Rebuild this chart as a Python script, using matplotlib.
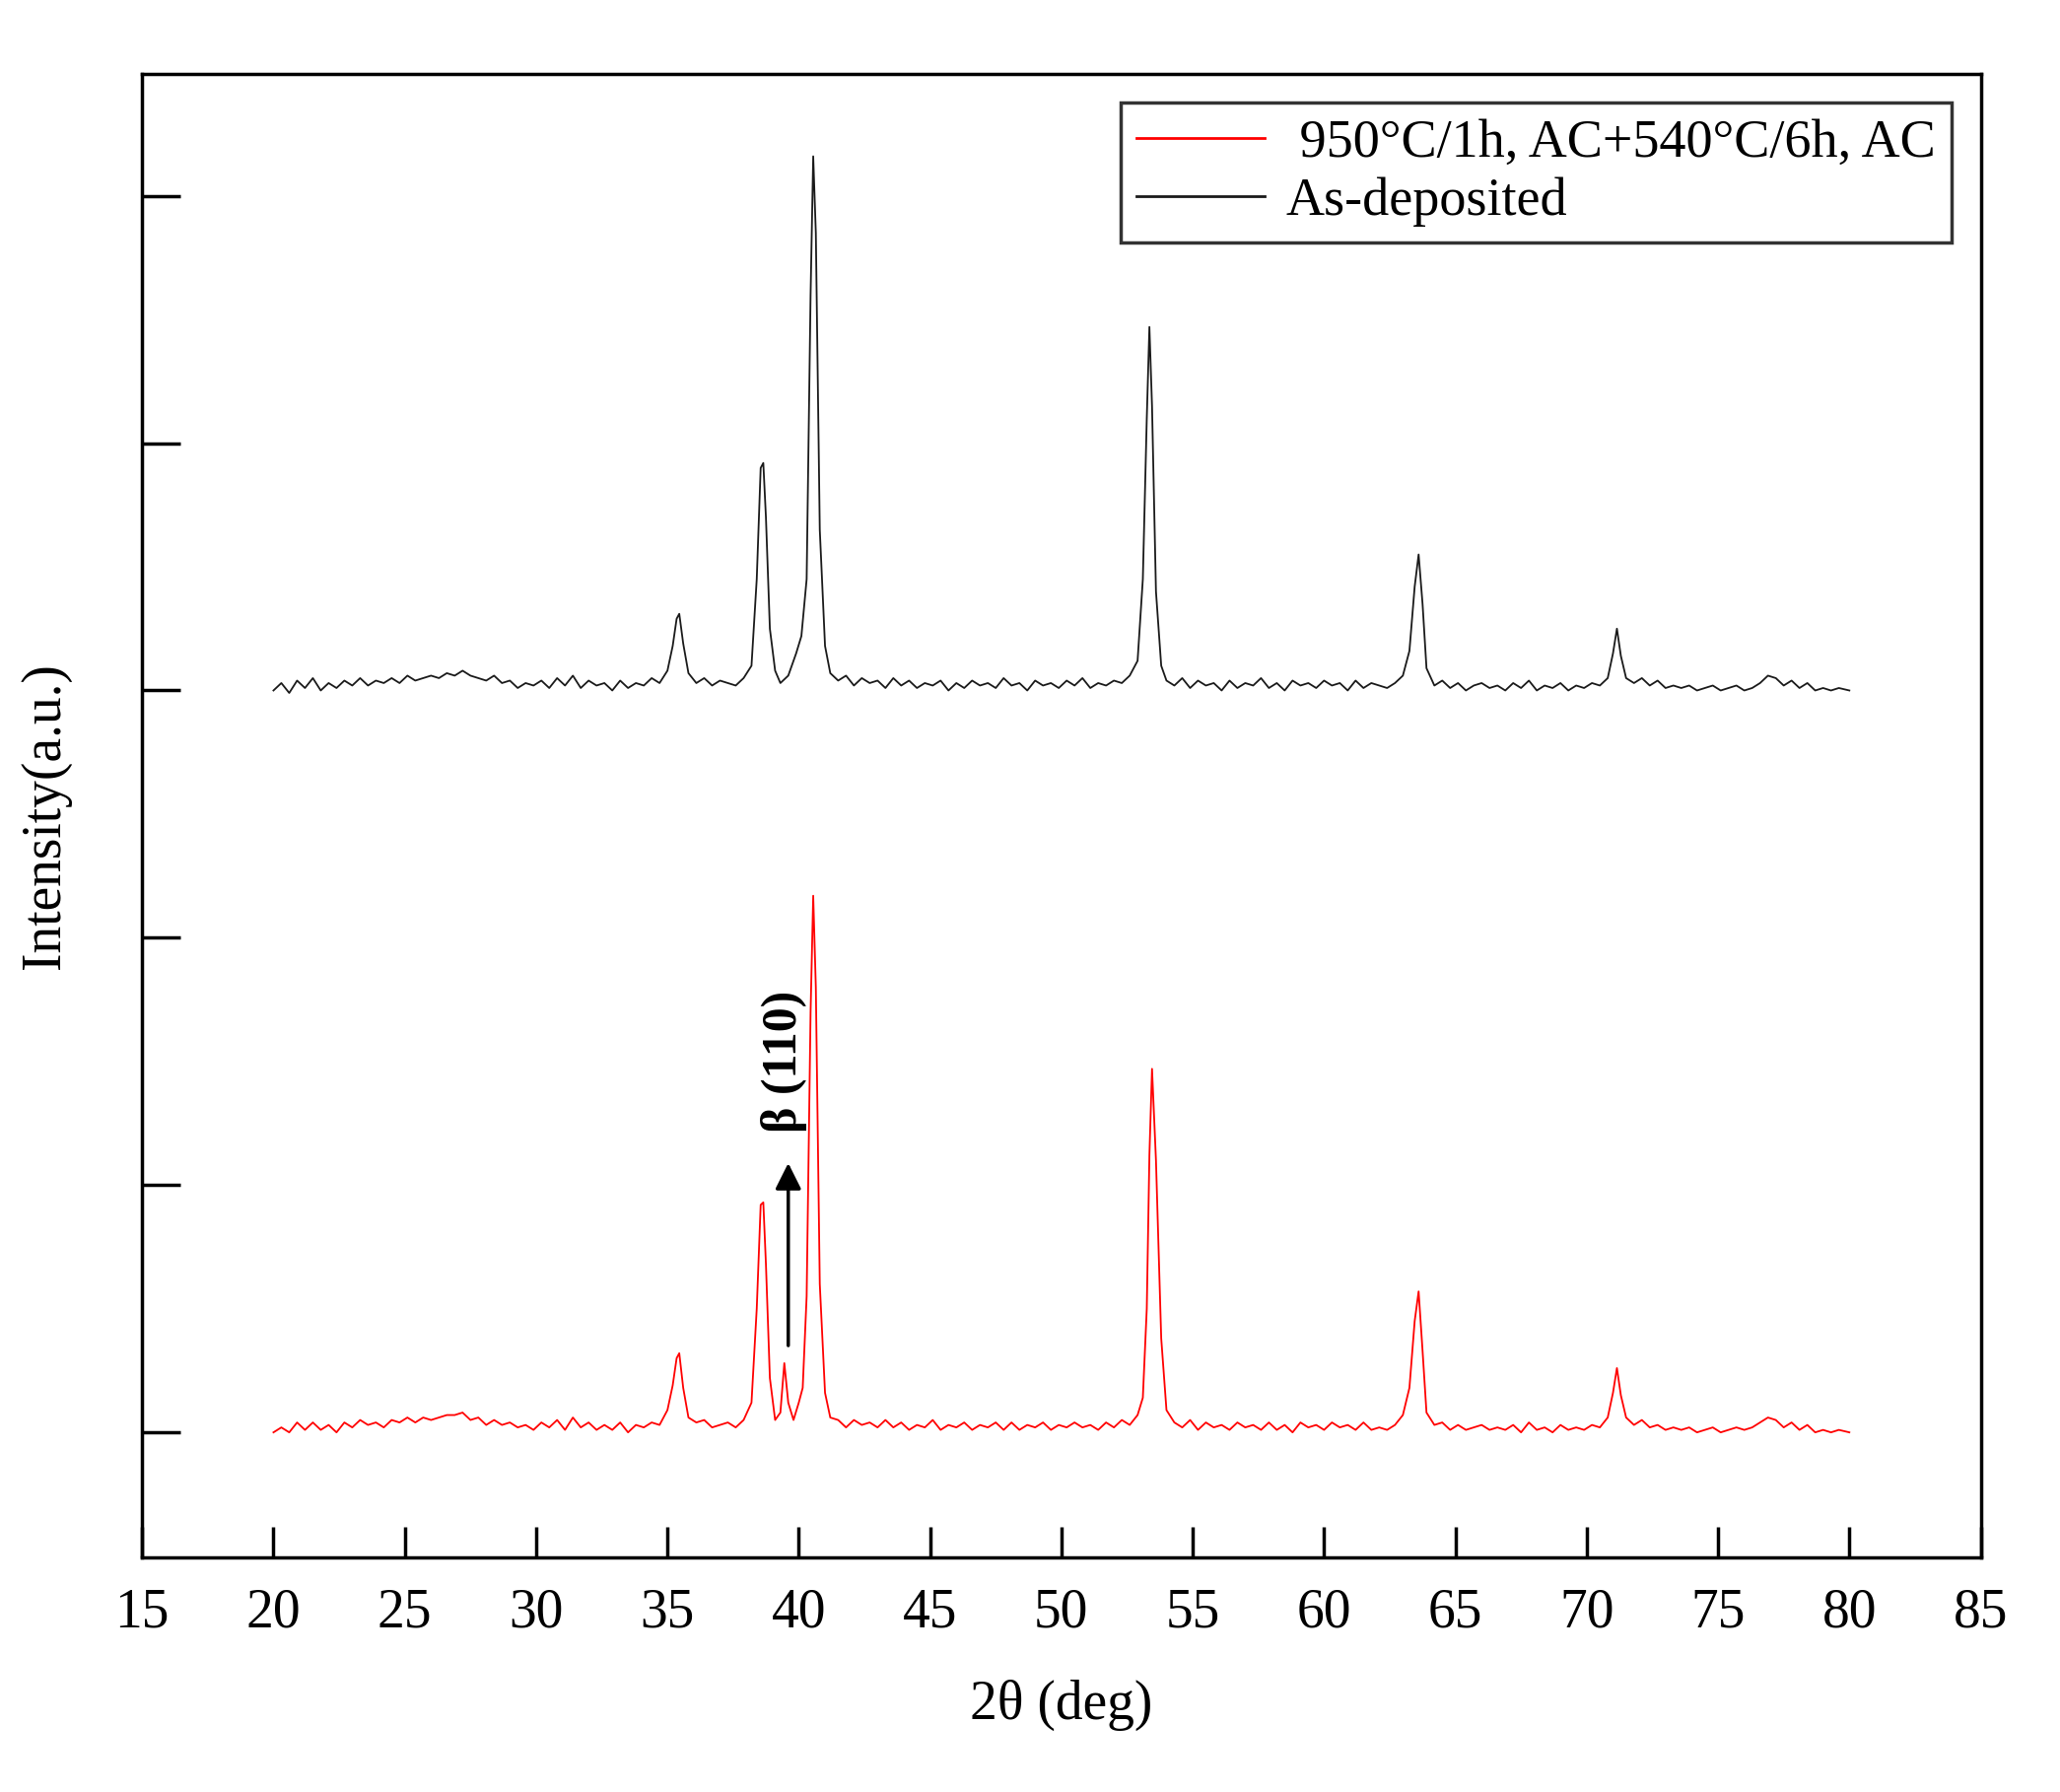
import matplotlib.pyplot as plt
import numpy as np

plt.rcParams['font.family'] = ['Liberation Serif', 'DejaVu Serif']

# XRD patterns (2theta in deg, relative intensity)
tt_black = [20.0, 20.3, 20.6, 20.9, 21.2, 21.5, 21.8, 22.1, 22.4, 22.7, 23.0, 23.3, 23.6, 23.9,
            24.2, 24.5, 24.8, 25.1, 25.4, 25.7, 26.0, 26.3, 26.6, 26.9, 27.2, 27.5, 27.8, 28.1,
            28.4, 28.7, 29.0, 29.3, 29.6, 29.9, 30.2, 30.5, 30.8, 31.1, 31.4, 31.7, 32.0, 32.3,
            32.6, 32.9, 33.2, 33.5, 33.8, 34.1, 34.4, 34.7, 35.0, 35.2, 35.35, 35.45, 35.6, 35.8,
            36.1, 36.4, 36.7, 37.0, 37.3, 37.6, 37.9, 38.2, 38.4, 38.55, 38.65, 38.75, 38.9, 39.1,
            39.3, 39.6, 39.9, 40.1, 40.3, 40.45, 40.55, 40.65, 40.8, 41.0, 41.2, 41.5, 41.8, 42.1,
            42.4, 42.7, 43.0, 43.3, 43.6, 43.9, 44.2, 44.5, 44.8, 45.1, 45.4, 45.7, 46.0, 46.3,
            46.6, 46.9, 47.2, 47.5, 47.8, 48.1, 48.4, 48.7, 49.0, 49.3, 49.6, 49.9, 50.2, 50.5,
            50.8, 51.1, 51.4, 51.7, 52.0, 52.3, 52.6, 52.9, 53.1, 53.25, 53.35, 53.45, 53.6, 53.8,
            54.0, 54.3, 54.6, 54.9, 55.2, 55.5, 55.8, 56.1, 56.4, 56.7, 57.0, 57.3, 57.6, 57.9,
            58.2, 58.5, 58.8, 59.1, 59.4, 59.7, 60.0, 60.3, 60.6, 60.9, 61.2, 61.5, 61.8, 62.1,
            62.4, 62.7, 63.0, 63.25, 63.45, 63.6, 63.75, 63.9, 64.2, 64.5, 64.8, 65.1, 65.4, 65.7,
            66.0, 66.3, 66.6, 66.9, 67.2, 67.5, 67.8, 68.1, 68.4, 68.7, 69.0, 69.3, 69.6, 69.9,
            70.2, 70.5, 70.8, 71.0, 71.15, 71.3, 71.5, 71.8, 72.1, 72.4, 72.7, 73.0, 73.3, 73.6,
            73.9, 74.2, 74.5, 74.8, 75.1, 75.4, 75.7, 76.0, 76.3, 76.6, 76.9, 77.2, 77.5, 77.8,
            78.1, 78.4, 78.7, 79.0, 79.3, 79.6, 80.0]
int_black = [0.00, 0.03, -0.01, 0.04, 0.01, 0.05, 0.00, 0.03, 0.01, 0.04, 0.02, 0.05, 0.02, 0.04,
             0.03, 0.05, 0.03, 0.06, 0.04, 0.05, 0.06, 0.05, 0.07, 0.06, 0.08, 0.06, 0.05, 0.04,
             0.06, 0.03, 0.04, 0.01, 0.03, 0.02, 0.04, 0.01, 0.05, 0.02, 0.06, 0.01, 0.04, 0.02,
             0.03, 0.00, 0.04, 0.01, 0.03, 0.02, 0.05, 0.03, 0.08, 0.18, 0.29, 0.31, 0.19, 0.07,
             0.03, 0.05, 0.02, 0.04, 0.03, 0.02, 0.05, 0.10, 0.45, 0.90, 0.92, 0.70, 0.25, 0.08,
             0.03, 0.06, 0.15, 0.22, 0.45, 1.60, 2.16, 1.85, 0.65, 0.18, 0.07, 0.04, 0.06, 0.02,
             0.05, 0.03, 0.04, 0.01, 0.05, 0.02, 0.04, 0.01, 0.03, 0.02, 0.04, 0.00, 0.03, 0.01,
             0.04, 0.02, 0.03, 0.01, 0.05, 0.02, 0.03, 0.00, 0.04, 0.02, 0.03, 0.01, 0.04, 0.02,
             0.05, 0.01, 0.03, 0.02, 0.04, 0.03, 0.06, 0.12, 0.45, 1.10, 1.47, 1.15, 0.40, 0.10,
             0.04, 0.02, 0.05, 0.01, 0.04, 0.02, 0.03, 0.00, 0.04, 0.01, 0.03, 0.02, 0.05, 0.01,
             0.03, 0.00, 0.04, 0.02, 0.03, 0.01, 0.04, 0.02, 0.03, 0.00, 0.04, 0.01, 0.03, 0.02,
             0.01, 0.03, 0.06, 0.16, 0.42, 0.55, 0.35, 0.09, 0.02, 0.04, 0.01, 0.03, 0.00, 0.02,
             0.03, 0.01, 0.02, 0.00, 0.03, 0.01, 0.04, 0.00, 0.02, 0.01, 0.03, 0.00, 0.02, 0.01,
             0.03, 0.02, 0.05, 0.15, 0.25, 0.14, 0.05, 0.03, 0.05, 0.02, 0.04, 0.01, 0.02, 0.01,
             0.02, 0.00, 0.01, 0.02, 0.00, 0.01, 0.02, 0.00, 0.01, 0.03, 0.06, 0.05, 0.02, 0.04,
             0.01, 0.03, 0.00, 0.01, 0.00, 0.01, 0.00]

tt_red = [20.0, 20.3, 20.6, 20.9, 21.2, 21.5, 21.8, 22.1, 22.4, 22.7, 23.0, 23.3, 23.6, 23.9,
          24.2, 24.5, 24.8, 25.1, 25.4, 25.7, 26.0, 26.3, 26.6, 26.9, 27.2, 27.5, 27.8, 28.1,
          28.4, 28.7, 29.0, 29.3, 29.6, 29.9, 30.2, 30.5, 30.8, 31.1, 31.4, 31.7, 32.0, 32.3,
          32.6, 32.9, 33.2, 33.5, 33.8, 34.1, 34.4, 34.7, 35.0, 35.2, 35.35, 35.45, 35.6, 35.8,
          36.1, 36.4, 36.7, 37.0, 37.3, 37.6, 37.9, 38.2, 38.4, 38.55, 38.65, 38.75, 38.9, 39.1,
          39.3, 39.45, 39.6, 39.8, 40.0, 40.15, 40.3, 40.45, 40.55, 40.65, 40.8, 41.0, 41.2, 41.5,
          41.8, 42.1, 42.4, 42.7, 43.0, 43.3, 43.6, 43.9, 44.2, 44.5, 44.8, 45.1, 45.4, 45.7,
          46.0, 46.3, 46.6, 46.9, 47.2, 47.5, 47.8, 48.1, 48.4, 48.7, 49.0, 49.3, 49.6, 49.9,
          50.2, 50.5, 50.8, 51.1, 51.4, 51.7, 52.0, 52.3, 52.6, 52.9, 53.1, 53.25, 53.35, 53.45,
          53.6, 53.8, 54.0, 54.3, 54.6, 54.9, 55.2, 55.5, 55.8, 56.1, 56.4, 56.7, 57.0, 57.3,
          57.6, 57.9, 58.2, 58.5, 58.8, 59.1, 59.4, 59.7, 60.0, 60.3, 60.6, 60.9, 61.2, 61.5,
          61.8, 62.1, 62.4, 62.7, 63.0, 63.25, 63.45, 63.6, 63.75, 63.9, 64.2, 64.5, 64.8, 65.1,
          65.4, 65.7, 66.0, 66.3, 66.6, 66.9, 67.2, 67.5, 67.8, 68.1, 68.4, 68.7, 69.0, 69.3,
          69.6, 69.9, 70.2, 70.5, 70.8, 71.0, 71.15, 71.3, 71.5, 71.8, 72.1, 72.4, 72.7, 73.0,
          73.3, 73.6, 73.9, 74.2, 74.5, 74.8, 75.1, 75.4, 75.7, 76.0, 76.3, 76.6, 76.9, 77.2,
          77.5, 77.8, 78.1, 78.4, 78.7, 79.0, 79.3, 79.6, 80.0]
int_red = [0.00, 0.02, 0.00, 0.04, 0.01, 0.04, 0.01, 0.03, 0.00, 0.04, 0.02, 0.05, 0.03, 0.04,
           0.02, 0.05, 0.04, 0.06, 0.04, 0.06, 0.05, 0.06, 0.07, 0.07, 0.08, 0.05, 0.06, 0.03,
           0.05, 0.03, 0.04, 0.02, 0.03, 0.01, 0.04, 0.02, 0.05, 0.01, 0.06, 0.02, 0.04, 0.01,
           0.03, 0.01, 0.04, 0.00, 0.03, 0.02, 0.04, 0.03, 0.09, 0.19, 0.30, 0.32, 0.18, 0.06,
           0.04, 0.05, 0.02, 0.03, 0.04, 0.02, 0.05, 0.12, 0.50, 0.92, 0.93, 0.68, 0.22, 0.05,
           0.08, 0.28, 0.12, 0.05, 0.12, 0.18, 0.55, 1.70, 2.17, 1.80, 0.60, 0.16, 0.06, 0.05,
           0.02, 0.05, 0.03, 0.04, 0.02, 0.05, 0.02, 0.04, 0.01, 0.03, 0.02, 0.05, 0.01, 0.03,
           0.02, 0.04, 0.01, 0.03, 0.02, 0.04, 0.01, 0.04, 0.01, 0.03, 0.02, 0.04, 0.01, 0.03,
           0.02, 0.04, 0.02, 0.03, 0.01, 0.04, 0.02, 0.05, 0.03, 0.07, 0.14, 0.50, 1.12, 1.47,
           1.10, 0.38, 0.09, 0.04, 0.02, 0.05, 0.01, 0.04, 0.02, 0.03, 0.01, 0.04, 0.02, 0.03,
           0.01, 0.04, 0.01, 0.03, 0.00, 0.04, 0.02, 0.03, 0.01, 0.04, 0.02, 0.03, 0.01, 0.04,
           0.01, 0.02, 0.01, 0.03, 0.07, 0.18, 0.45, 0.57, 0.33, 0.08, 0.03, 0.04, 0.01, 0.03,
           0.01, 0.02, 0.03, 0.01, 0.02, 0.01, 0.03, 0.00, 0.04, 0.01, 0.02, 0.00, 0.03, 0.01,
           0.02, 0.01, 0.03, 0.02, 0.06, 0.16, 0.26, 0.15, 0.06, 0.03, 0.05, 0.02, 0.03, 0.01,
           0.02, 0.01, 0.02, 0.00, 0.01, 0.02, 0.00, 0.01, 0.02, 0.01, 0.02, 0.04, 0.06, 0.05,
           0.02, 0.04, 0.01, 0.03, 0.00, 0.01, 0.00, 0.01, 0.00]

offset_black = 3.0
label_red = ' 950°C/1h, AC+540°C/6h, AC'
label_black = 'As-deposited'
xticks = [15, 20, 25, 30, 35, 40, 45, 50, 55, 60, 65, 70, 75, 80, 85]
yticks = [0, 1, 2, 3, 4, 5]

fig = plt.figure(figsize=(20.9, 18.18), dpi=100)
ax1 = fig.add_axes([0.069, 0.131, 0.8925, 0.828])

ax1.plot(tt_red, int_red, color='#ff0000', linewidth=1.3, label=label_red)
ax1.plot(tt_black, np.array(int_black) + offset_black, color='#1a1a1a', linewidth=1.3,
         label=label_black)

ax1.annotate('', xy=(39.6, 1.1), xytext=(39.6, 0.34),
             arrowprops=dict(arrowstyle='-|>,head_length=1.6,head_width=0.8', color='black',
                             linewidth=2.5))
ax1.text(39.45, 1.5, 'β (110)', rotation=90, fontsize=36, fontweight='bold',
         ha='center', va='center')

ax1.set_xlim(15, 85)
ax1.set_ylim(-0.505, 5.495)
ax1.set_xticks(xticks)
ax1.set_yticks(yticks)
ax1.set_yticklabels([])
ax1.tick_params(direction='in', length=22, width=2.5, labelsize=40, pad=22)
ax1.tick_params(axis='y', length=28)
for sp in ax1.spines.values():
    sp.set_linewidth(2.5)

ax1.set_xlabel('2θ (deg)', fontsize=40, labelpad=30)
ax1.set_ylabel('Intensity(a.u.)', fontsize=40, labelpad=30)

leg = ax1.legend(loc='upper right', fontsize=39, frameon=True, fancybox=False,
                 handlelength=2.4, handletextpad=0.4, borderpad=0.3, borderaxespad=0.55,
                 labelspacing=0.15)
leg.get_frame().set_edgecolor('black')
leg.get_frame().set_linewidth(2.5)
for line in leg.get_lines():
    line.set_linewidth(2)

fig.savefig('out.png', dpi=100)
